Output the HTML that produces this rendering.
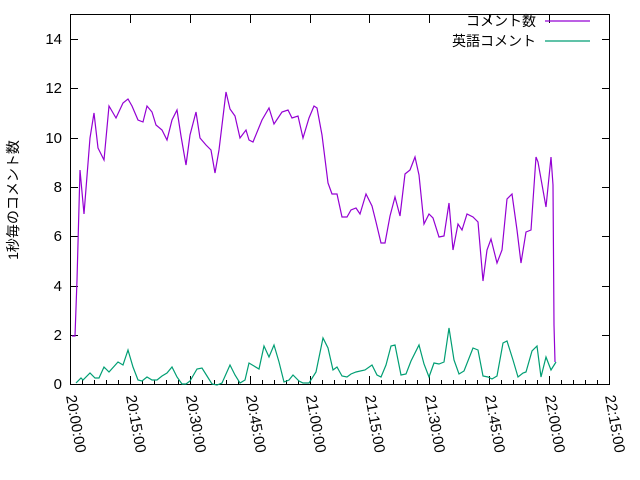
<!DOCTYPE html><html><head><style>body{margin:0;background:#fff}svg{display:block}text{font-family:"Liberation Sans","Noto Sans CJK JP",sans-serif;font-size:15px;fill:#000}</style></head><body>
<svg width="640" height="480" xmlns="http://www.w3.org/2000/svg">
<g stroke="#000" stroke-width="1" fill="none">
<rect x="70.5" y="14.5" width="539" height="370"/>
<path d="M70 384.5h8M70 335.5h8M70 286.5h8M70 236.5h8M70 187.5h8M70 138.5h8M70 88.5h8M70 39.5h8M610 335.5h-8M610 286.5h-8M610 236.5h-8M610 187.5h-8M610 138.5h-8M610 88.5h-8M610 39.5h-8"/>
<path d="M130.5 384v-8M190.5 384v-8M250.5 384v-8M310.5 384v-8M369.5 384v-8M429.5 384v-8M489.5 384v-8M549.5 384v-8M130.5 15v8M190.5 15v8M250.5 15v8M310.5 15v8M369.5 15v8M429.5 15v8M489.5 15v8M549.5 15v8"/>
<path d="M82.5 384v-4M94.5 384v-4M106.5 384v-4M118.5 384v-4M142.5 384v-4M154.5 384v-4M166.5 384v-4M178.5 384v-4M202.5 384v-4M214.5 384v-4M226.5 384v-4M238.5 384v-4M262.5 384v-4M274.5 384v-4M286.5 384v-4M298.5 384v-4M322.5 384v-4M334.5 384v-4M345.5 384v-4M357.5 384v-4M381.5 384v-4M393.5 384v-4M405.5 384v-4M417.5 384v-4M441.5 384v-4M453.5 384v-4M465.5 384v-4M477.5 384v-4M501.5 384v-4M513.5 384v-4M525.5 384v-4M537.5 384v-4M561.5 384v-4M573.5 384v-4M585.5 384v-4M597.5 384v-4"/>
</g>
<g text-anchor="end">
<text x="62" y="389">0</text><text x="62" y="340">2</text><text x="62" y="291">4</text><text x="62" y="241">6</text><text x="62" y="192">8</text><text x="62" y="143">10</text><text x="62" y="93">12</text><text x="62" y="44">14</text>
</g>
<g font-size="17" style="font-size:17px">
<text transform="translate(66,396) rotate(80)">20:00:00</text>
<text transform="translate(126,396) rotate(80)">20:15:00</text>
<text transform="translate(186,396) rotate(80)">20:30:00</text>
<text transform="translate(246,396) rotate(80)">20:45:00</text>
<text transform="translate(306,396) rotate(80)">21:00:00</text>
<text transform="translate(365,396) rotate(80)">21:15:00</text>
<text transform="translate(425,396) rotate(80)">21:30:00</text>
<text transform="translate(485,396) rotate(80)">21:45:00</text>
<text transform="translate(545,396) rotate(80)">22:00:00</text>
<text transform="translate(605,396) rotate(80)">22:15:00</text>
</g>
<text transform="translate(18,200) rotate(-90)" text-anchor="middle" style="font-size:14px">1秒毎のコメント数</text>
<text x="536" y="26" text-anchor="end" style="font-size:14px">コメント数</text>
<text x="536" y="46" text-anchor="end" style="font-size:14px">英語コメント</text>
<path d="M545 21h45" stroke="#9400d3" stroke-width="1.2"/>
<path d="M545 41h45" stroke="#009e73" stroke-width="1.2"/>
<polyline fill="none" stroke="#9400d3" stroke-width="1.2" points="72,336 75,336 77,280 80,170 84,214 90,138 94,113 98,148 104,160 109,106 116,118 123,103 128,99 132,106 138,120 143,122 147,106 152,112 156,125 162,130 167,140 172,120 177,110 181,136 186,165 190,135 196,112 200,138 206,145 211,150 215,173 219,150 226,92 230,109 235,116 240,138 246,130 249,140 253,142 262,120 269,108 274,124 282,112 288,110 292,118 298,116 303,138 309,118 314,106 317,108 322,135 328,183 332,194 337,194 342,217 347,217 351,210 356,208 360,214 366,194 372,206 376,222 381,243 385,243 390,216 395,197 400,216 405,174 410,170 415,157 419,175 424,224 429,214 433,218 439,237 444,236 449,203 453,250 458,224 462,230 467,214 473,217 478,222 483,281 487,250 491,239 497,263 502,250 507,199 512,194 517,230 521,263 526,232 531,230 536,157 538,162 546,207 551,157 553,185 554,325 555,362"/>
<polyline fill="none" stroke="#009e73" stroke-width="1.2" points="76,383 81,378 83,380 90,373 95,378 99,378 104,367 109,372 118,362 123,365 128,350 133,367 138,380 142,381 147,377 152,380 157,380 162,376 167,373 172,367 177,377 182,384 186,384 190,381 197,369 202,368 207,376 212,384 217,385 222,383 230,365 235,375 240,383 245,380 249,363 254,366 259,369 264,346 269,357 274,345 279,362 284,382 289,380 293,375 299,381 303,383 309,383 316,372 323,338 328,348 333,370 337,367 342,376 347,377 351,374 356,372 365,370 372,365 377,375 381,377 386,365 391,346 395,345 401,375 406,374 411,361 419,345 424,364 429,377 434,363 439,364 444,362 449,328 454,360 459,374 464,371 473,348 478,350 483,376 488,377 492,379 497,376 503,343 507,341 513,360 518,377 523,373 526,372 532,351 537,346 541,377 546,357 551,370 556,362"/>
</svg></body></html>
